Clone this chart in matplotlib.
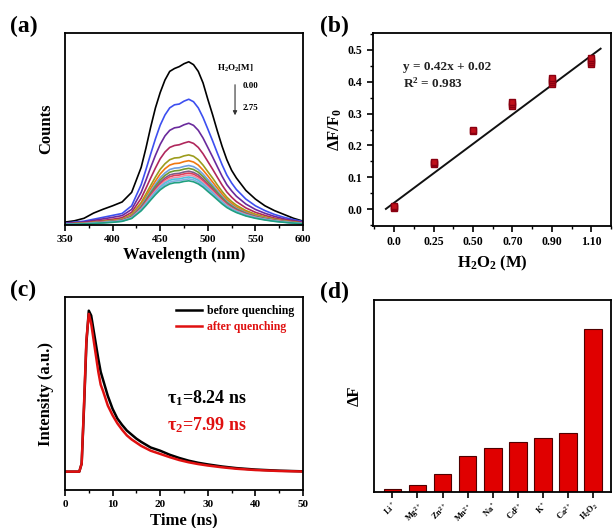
"""
H2O2 sensing figure: emission spectra, calibration, lifetime decay, selectivity
"""
import matplotlib
matplotlib.use("Agg")
import matplotlib.pyplot as plt
from matplotlib.ticker import MultipleLocator, FixedLocator, NullLocator

plt.rcParams['font.family'] = ['Liberation Serif', 'DejaVu Serif']
plt.rcParams['font.weight'] = 'bold'
plt.rcParams['axes.labelweight'] = 'bold'
plt.rcParams['mathtext.default'] = 'regular'
plt.rcParams['axes.linewidth'] = 1.3

# (a) emission spectra, quenched by H2O2 (0.00 -> 2.75 M)
wavelength = [350, 360, 370, 380, 390, 400, 410, 420,
              430, 435, 440, 445, 450, 455, 460, 465, 470, 475, 480, 485, 490,
              495, 500, 505, 510, 515, 520, 525, 530,
              540, 550, 560, 570, 580, 590, 600]
spec_0 = [.015, .022, .035, .062, .082, .100, .120, .170,
          .300, .400, .510, .610, .690, .755, .800, .815, .825, .840, .850, .835, .800,
          .740, .655, .575, .490, .410, .340, .285, .245,
          .180, .135, .100, .075, .055, .035, .020]
spec_1 = [.010, .015, .020, .030, .040, .050, .060, .100,
          .210, .288, .370, .449, .520, .573, .610, .626, .630, .645, .655, .642, .610,
          .560, .500, .439, .375, .314, .260, .219, .185,
          .135, .100, .075, .055, .040, .028, .018]
spec_2 = [.008, .012, .016, .024, .032, .040, .049, .081,
          .170, .233, .300, .363, .420, .464, .493, .506, .510, .522, .530, .519, .493,
          .453, .404, .355, .304, .254, .210, .178, .150,
          .109, .081, .061, .045, .032, .023, .014]
spec_3 = [.006, .009, .012, .018, .024, .030, .038, .066,
          .139, .191, .245, .297, .345, .380, .404, .414, .418, .427, .434, .425, .404,
          .371, .331, .291, .249, .208, .172, .145, .122,
          .089, .066, .050, .036, .026, .019, .012]
spec_4 = [.005, .007, .010, .014, .019, .024, .030, .055,
          .117, .161, .206, .250, .290, .319, .340, .349, .351, .360, .365, .358, .340,
          .312, .278, .245, .209, .175, .145, .122, .103,
          .075, .056, .042, .031, .022, .016, .010]
spec_5 = [.005, .007, .009, .013, .017, .022, .028, .050,
          .107, .147, .189, .229, .266, .293, .312, .320, .322, .330, .335, .328, .312,
          .286, .256, .224, .192, .161, .133, .112, .094,
          .069, .051, .039, .028, .020, .014, .009]
spec_6 = [.004, .006, .008, .012, .016, .020, .026, .046,
          .099, .136, .175, .212, .246, .271, .289, .296, .298, .305, .310, .304, .289,
          .265, .237, .208, .178, .149, .123, .104, .087,
          .064, .047, .036, .026, .019, .013, .008]
spec_7 = [.004, .006, .008, .011, .015, .019, .025, .044,
          .094, .130, .167, .202, .234, .258, .275, .282, .284, .291, .295, .289, .275,
          .252, .225, .198, .169, .142, .117, .099, .083,
          .061, .045, .034, .025, .018, .013, .008]
spec_8 = [.004, .006, .007, .011, .014, .018, .024, .042,
          .090, .123, .158, .192, .222, .245, .261, .267, .269, .276, .280, .274, .261,
          .239, .214, .188, .160, .134, .111, .094, .079,
          .058, .043, .032, .024, .017, .012, .008]
spec_9 = [.004, .005, .007, .010, .014, .017, .023, .040,
          .086, .119, .153, .185, .214, .236, .251, .258, .260, .266, .270, .265, .251,
          .231, .206, .181, .155, .130, .107, .090, .076,
          .056, .041, .031, .023, .016, .012, .007]
spec_10 = [.003, .005, .007, .010, .013, .017, .022, .039,
           .083, .114, .147, .178, .206, .228, .242, .248, .250, .256, .260, .255, .242,
           .222, .198, .174, .149, .125, .103, .087, .073,
           .054, .040, .030, .022, .016, .011, .007]
spec_11 = [.003, .005, .006, .009, .012, .016, .021, .037,
           .080, .110, .141, .171, .198, .219, .233, .239, .240, .246, .250, .245, .233,
           .214, .191, .168, .143, .120, .099, .084, .071,
           .052, .038, .029, .021, .015, .011, .007]
spec_12 = [.003, .005, .006, .009, .012, .015, .020, .036,
           .077, .106, .136, .164, .190, .210, .223, .229, .231, .236, .240, .235, .223,
           .205, .183, .161, .138, .115, .095, .080, .068,
           .049, .037, .028, .020, .015, .010, .006]
spec_13 = [.003, .004, .006, .008, .011, .014, .019, .034,
           .074, .101, .130, .158, .183, .201, .214, .220, .221, .227, .230, .225, .214,
           .197, .175, .154, .132, .110, .091, .077, .065,
           .047, .035, .026, .019, .014, .010, .006]
spectra = [spec_0, spec_1, spec_2, spec_3, spec_4, spec_5, spec_6,
           spec_7, spec_8, spec_9, spec_10, spec_11, spec_12, spec_13]
spec_colors = ['black', '#3d4ff0', '#6a2a9c', '#b0275c', '#9c9c1c', '#f07810',
               '#6f9fe0', '#6f9a30', '#7c5c88', '#e0405a', '#f090a8', '#50c0e0',
               '#80b0e0', '#20a080']

# (b) calibration: replicate measurements at each concentration
conc_labels = ['0.0', '0.25', '0.50', '0.70', '0.90', '1.10']
conc_pos = [0.0, 0.22, 0.44, 0.66, 0.88, 1.10]
ratio_reps = [[0.004, 0.007, 0.010],
              [0.141, 0.145, 0.149],
              [0.245, 0.248],
              [0.325, 0.330, 0.336],
              [0.393, 0.399, 0.405, 0.411],
              [0.457, 0.463, 0.469, 0.474]]
fit_slope = 0.42
fit_intercept = 0.02

# (c) fluorescence decay
time_ns = [0, 1, 2, 3, 3.5, 4, 4.5, 5, 5.5, 6, 6.5, 7, 7.5, 8, 9, 10, 11, 12, 13,
           14, 15, 16, 18, 20, 22, 24, 26, 28, 30, 33, 36, 40, 45, 50]
decay_before = [0, 0, 0, 0, 0.05, 0.40, 0.80, 1.00, 0.97, 0.88, 0.79, 0.70, 0.62, 0.57,
                0.47, 0.39, 0.33, 0.29, 0.255, 0.23, 0.205, 0.185, 0.15, 0.13, 0.105,
                0.085, 0.068, 0.055, 0.045, 0.032, 0.022, 0.013, 0.006, 0.002]
decay_after = [0, 0, 0, 0, 0.05, 0.42, 0.82, 0.98, 0.92, 0.82, 0.72, 0.62, 0.54, 0.50,
               0.41, 0.35, 0.30, 0.26, 0.225, 0.20, 0.18, 0.16, 0.13, 0.11, 0.09,
               0.072, 0.058, 0.047, 0.038, 0.027, 0.018, 0.010, 0.004, 0.001]

# (d) selectivity
ions = ['Li$^+$', 'Mg$^{2+}$', 'Zn$^{2+}$', 'Mn$^{2+}$', 'Na$^+$',
        'Cd$^{2+}$', 'K$^+$', 'Ca$^{2+}$', 'H$_2$O$_2$']
delta_f = [10, 20, 53, 108, 131, 149, 162, 177, 490]


def style_ticks(ax):
    ax.tick_params(which='major', direction='out', length=4, width=1.2, labelsize=8)
    ax.tick_params(which='minor', direction='out', length=2, width=1.0)


def panel_label(fig, x, y, s):
    fig.text(x / 613, 1 - y / 528, s, fontsize=17, fontweight='bold',
             ha='left', va='center')


def draw_spectra(ax):
    for vals, c in zip(spectra, spec_colors):
        ax.plot(wavelength, vals, color=c, lw=1.2)
    ax.set_xlim(350, 600)
    ax.set_ylim(0, 1)
    ax.xaxis.set_major_locator(MultipleLocator(50))
    ax.xaxis.set_minor_locator(MultipleLocator(25))
    ax.yaxis.set_major_locator(NullLocator())
    style_ticks(ax)
    ax.set_xlabel('Wavelength (nm)', fontsize=12, labelpad=2)
    ax.set_ylabel('Counts', fontsize=12, labelpad=8)
    ax.text(529, 0.818, 'H$_2$O$_2$[M]', fontsize=6.5, ha='center', va='center')
    ax.text(537, 0.724, '0.00', fontsize=6.5, ha='left', va='center')
    ax.text(537, 0.609, '2.75', fontsize=6.5, ha='left', va='center')
    ax.annotate('', xy=(528.6, 0.557), xytext=(528.6, 0.745),
                arrowprops=dict(arrowstyle='-|>', color='#333333', lw=0.8,
                                mutation_scale=6))


def draw_calibration(ax):
    for x, reps in zip(conc_pos, ratio_reps):
        xs = [x] * len(reps)
        ax.errorbar(xs, reps, yerr=0.008, fmt='s', ms=4, color='#c0101a',
                    mec='#8a0010', ecolor='#999999', elinewidth=0.8, capsize=0)
    fit_x = [-0.046, 1.152]
    fit_y = [fit_slope * v + fit_intercept for v in fit_x]
    ax.plot(fit_x, fit_y, color='#111111', lw=1.4)
    ax.set_xlim(-0.118, 1.21)
    ax.set_ylim(-0.053, 0.553)
    ax.xaxis.set_major_locator(FixedLocator(conc_pos))
    ax.set_xticklabels(conc_labels)
    ax.xaxis.set_minor_locator(MultipleLocator(0.11))
    ax.yaxis.set_major_locator(MultipleLocator(0.1))
    ax.yaxis.set_minor_locator(MultipleLocator(0.05))
    style_ticks(ax)
    ax.tick_params(which='major', labelsize=8.5)
    ax.set_xlabel('H$_2$O$_2$ (M)', fontsize=12, labelpad=4)
    ax.set_ylabel('ΔF/F$_0$', fontsize=12, labelpad=3)
    ax.text(0.048, 0.446, f'y = {fit_slope}x + {fit_intercept}', fontsize=9.5,
            ha='left', va='center', color='#222222')
    ax.text(0.048, 0.394, 'R$^2$ = 0.983', fontsize=9.5, ha='left', va='center',
            color='#222222')


def draw_decay(ax):
    ax.plot(time_ns, decay_before, color='black', lw=1.8, label='before quenching')
    ax.plot(time_ns, decay_after, color='#e01010', lw=1.8, label='after quenching')
    ax.set_xlim(0, 50)
    ax.set_ylim(-0.114, 1.085)
    ax.xaxis.set_major_locator(MultipleLocator(10))
    ax.xaxis.set_minor_locator(MultipleLocator(5))
    ax.yaxis.set_major_locator(NullLocator())
    style_ticks(ax)
    ax.set_xlabel('Time (ns)', fontsize=12, labelpad=2)
    ax.set_ylabel('Intensity (a.u.)', fontsize=12, labelpad=8)
    leg = ax.legend(loc='upper right', frameon=False, fontsize=8.5,
                    handlelength=2.2, handletextpad=0.5, borderaxespad=0.3,
                    labelspacing=0.3)
    for txt, c in zip(leg.get_texts(), ['black', '#e01010']):
        txt.set_color(c)
    ax.text(21.4, 0.458, 'τ$_1$=8.24 ns', fontsize=13, ha='left', va='center')
    ax.text(21.4, 0.29, 'τ$_2$=7.99 ns', fontsize=13, ha='left', va='center',
            color='#e01010')


def draw_selectivity(ax):
    pos = list(range(len(ions)))
    ax.bar(pos, delta_f, width=0.7, color='#e00000', edgecolor='#500000', lw=0.8)
    ax.set_xlim(-0.73, 8.71)
    ax.set_ylim(0, 577)
    ax.set_xticks(pos)
    ax.set_xticklabels(ions, rotation=45, ha='right', va='top', fontsize=6,
                       rotation_mode='anchor')
    ax.yaxis.set_major_locator(NullLocator())
    style_ticks(ax)
    ax.tick_params(axis='x', labelsize=6, pad=2)
    ax.set_ylabel('ΔF', fontsize=12, labelpad=8)


def main():
    fig = plt.figure(figsize=(6.13, 5.28), dpi=100)
    W, H = 613, 528

    ax_a = fig.add_axes([65 / W, 1 - 225 / H, 238 / W, 192 / H])
    ax_b = fig.add_axes([373 / W, 1 - 226 / H, 238 / W, 193 / H])
    ax_c = fig.add_axes([65 / W, 1 - 490 / H, 238 / W, 193 / H])
    ax_d = fig.add_axes([374 / W, 1 - 492 / H, 237 / W, 192 / H])

    draw_spectra(ax_a)
    draw_calibration(ax_b)
    draw_decay(ax_c)
    draw_selectivity(ax_d)

    panel_label(fig, 10, 26, '(a)')
    panel_label(fig, 320, 26, '(b)')
    panel_label(fig, 10, 290, '(c)')
    panel_label(fig, 320, 292, '(d)')

    fig.savefig('out.png', dpi=100)
    plt.close(fig)


if __name__ == "__main__":
    main()
